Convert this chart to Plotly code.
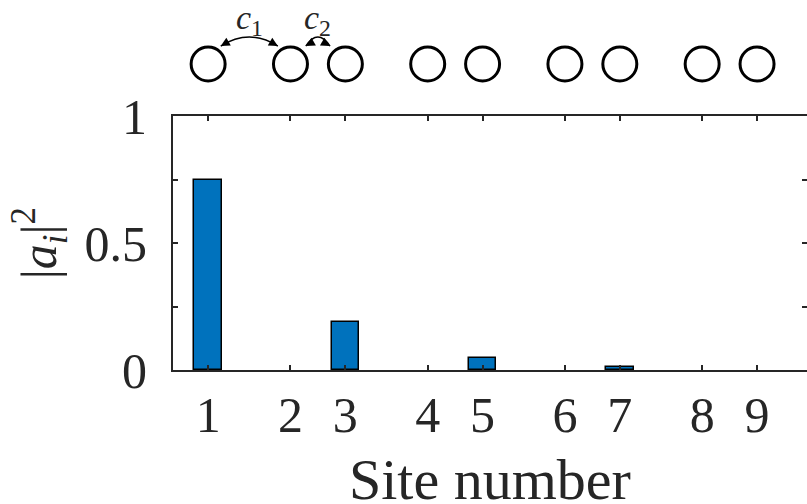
import plotly.graph_objects as go

# Site positions along the chain (alternating couplings c1, c2) and labels
site_pos = [0, 1.5, 2.5, 4, 5, 6.5, 7.5, 9, 10]
site_labels = ["1", "2", "3", "4", "5", "6", "7", "8", "9"]
# Occupation probability |a_i|^2 on each site
occupation = [0.75, 0.0, 0.19, 0.0, 0.047, 0.0, 0.012, 0.0, 0.0]

# Height of the site circles in the chain-diagram panel above the axes
chain_row = [0.448] * len(site_pos)

# Coupling arcs: (left end, right end, label)
couplings = [
    (0.23, 1.27, "<i>c</i><sub>1</sub>"),
    (1.78, 2.22, "<i>c</i><sub>2</sub>"),
]

INK = "#262626"
FONT = "Liberation Serif"
PLOT_FRAC = 254 / 370  # share of the paper height used by the bar axes

fig = go.Figure()

fig.add_trace(go.Bar(
    x=site_pos, y=occupation, width=0.5,
    marker=dict(color="#0072BD",
                line=dict(color="black",
                          width=[1.5 if v > 0 else 0 for v in occupation])),
    showlegend=False,
))

fig.add_trace(go.Scatter(
    x=site_pos, y=chain_row, mode="markers", cliponaxis=False,
    xaxis="x", yaxis="y2",
    marker=dict(symbol="circle-open", size=34, color="black",
                line=dict(width=3, color="black")),
    showlegend=False, hoverinfo="skip",
))

arc_end_y = 0.603
arc_ctrl_y = 0.759
for x0, x1, label in couplings:
    xm = (x0 + x1) / 2
    fig.add_shape(type="path", xref="x", yref="y2",
                  path=f"M{x0},{arc_end_y} Q{xm},{arc_ctrl_y} {x1},{arc_end_y}",
                  line=dict(color="black", width=1.5))
    for xe, sgn in ((x0, 1), (x1, -1)):
        fig.add_annotation(x=xe, y=arc_end_y, xref="x", yref="y2",
                           ax=7 * sgn, ay=-4, text="", showarrow=True,
                           arrowhead=2, arrowsize=1.2, arrowwidth=1.5,
                           arrowcolor="black", standoff=0)
    fig.add_annotation(x=xm, y=0.83, xref="x", yref="y2", text=label,
                       showarrow=False, font=dict(family=FONT, size=34, color=INK))

# x-axis title, placed below the tick labels
fig.add_annotation(x=0.5, y=-0.297, xref="paper", yref="paper",
                   xanchor="center", yanchor="middle", text="Site number",
                   showarrow=False, font=dict(family=FONT, size=58, color=INK))

fig.update_layout(
    width=807, height=504,
    margin=dict(l=173, r=0, t=0, b=134, autoexpand=False),
    plot_bgcolor="white", paper_bgcolor="white",
    bargap=0,
    xaxis=dict(
        range=[-0.64, 10.91], automargin=False,
        tickmode="array", tickvals=site_pos, ticktext=site_labels,
        ticks="inside", ticklen=5, tickwidth=1.5, tickcolor=INK,
        showline=True, linecolor=INK, linewidth=2, mirror="ticks",
        showgrid=False, zeroline=False,
        tickfont=dict(family=FONT, size=50, color=INK),
        ticklabelstandoff=0,
    ),
    yaxis=dict(
        domain=[0, PLOT_FRAC], automargin=False,
        range=[0, 1],
        tickmode="array", tickvals=[0, 0.5, 1], ticktext=["0", "0.5", "1"],
        ticks="inside", ticklen=5, tickwidth=1.5, tickcolor=INK,
        minor=dict(tickvals=[0.25, 0.75], ticks="inside", ticklen=5,
                   tickwidth=1.5, tickcolor=INK),
        showline=True, linecolor=INK, linewidth=2, mirror="ticks",
        showgrid=False, zeroline=False,
        tickfont=dict(family=FONT, size=50, color=INK),
        ticklabelstandoff=14,
        title=dict(text="|<i>a<sub>i</sub></i>|<sup>2</sup>",
                   font=dict(family=FONT, size=50, color=INK), standoff=12),
    ),
    yaxis2=dict(domain=[PLOT_FRAC, 1], range=[0, 1], anchor="x",
                visible=False, fixedrange=True, automargin=False),
)

fig.write_html("out.html")
